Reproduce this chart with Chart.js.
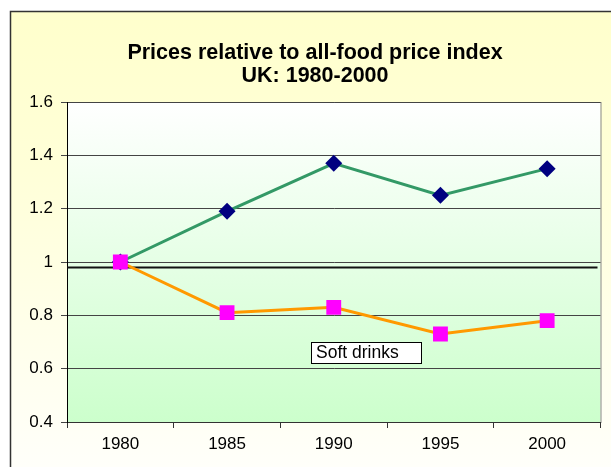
<!DOCTYPE html>
<html>
<head>
<meta charset="utf-8">
<script src="https://cdn.jsdelivr.net/npm/chart.js@4/dist/chart.umd.min.js"></script>
<style>
  html, body { margin: 0; padding: 0; background: #fff; }
  #wrap { width: 611px; height: 467px; position: relative; }
</style>
</head>
<body>
<div id="wrap"><canvas id="c"></canvas></div>
<script>
// data
const years      = ['1980', '1985', '1990', '1995', '2000'];
const upperSeries = [1.00, 1.19, 1.37, 1.25, 1.35];
const softDrinks  = [1.00, 0.81, 0.83, 0.73, 0.78];
const refLine     = [0.98];
const yTicks      = [0.4, 0.6, 0.8, 1.0, 1.2, 1.4, 1.6];
const titleLines  = ['Prices relative to all-food price index', 'UK: 1980-2000'];
const boxLabel    = { text: 'Soft drinks', xIndex: 2.3, y: 0.66 };

const FONT = "'Liberation Sans', Arial, sans-serif";

// fond, cadre, titre, ligne de référence, étiquette
const decor = {
  id: 'decor',
  beforeDraw(chart) {
    const { ctx, chartArea: a, width, height } = chart;
    ctx.save();
    ctx.fillStyle = '#fff';
    ctx.fillRect(0, 0, width, height);
    const g = ctx.createLinearGradient(0, 11, 0, height);
    g.addColorStop(0, '#FFFFCC');
    g.addColorStop(0.35, '#FFFFD8');
    g.addColorStop(1, '#FFFFFA');
    ctx.fillStyle = g;
    ctx.fillRect(10, 11, width, height);
    ctx.strokeStyle = '#333';
    ctx.lineWidth = 1.5;
    ctx.strokeRect(10.5, 11.5, width + 20, height + 20);

    const pg = ctx.createLinearGradient(0, a.top, 0, a.bottom);
    pg.addColorStop(0, '#FFFFFF');
    pg.addColorStop(1, '#CCFFCC');
    ctx.fillStyle = pg;
    ctx.fillRect(a.left, a.top, a.right - a.left, a.bottom - a.top);
    ctx.strokeStyle = '#888';
    ctx.lineWidth = 1;
    ctx.strokeRect(a.left + 0.5, a.top + 0.5, a.right - a.left, a.bottom - a.top);

    ctx.fillStyle = '#000';
    ctx.font = 'bold 21.5px ' + FONT;
    ctx.textAlign = 'center';
    ctx.textBaseline = 'middle';
    titleLines.forEach((t, i) => ctx.fillText(t, 315, 53 + i * 23));
    ctx.restore();
  },
  beforeDatasetsDraw(chart) {
    const { ctx, chartArea: a, scales: { y } } = chart;
    const py = Math.round(y.getPixelForValue(refLine[0])) + 0.5;
    ctx.save();
    ctx.strokeStyle = '#111';
    ctx.lineWidth = 2;
    ctx.beginPath();
    ctx.moveTo(a.left, py);
    ctx.lineTo(a.right - 3, py);
    ctx.stroke();
    ctx.restore();
  },
  afterDatasetsDraw(chart) {
    const { ctx, scales: { x, y } } = chart;
    const x0 = x.getPixelForValue(0), x1 = x.getPixelForValue(1);
    const cx = x0 + (x1 - x0) * boxLabel.xIndex;
    const cy = y.getPixelForValue(boxLabel.y);
    const w = 110, h = 21;
    ctx.save();
    ctx.fillStyle = '#fff';
    ctx.fillRect(Math.round(cx - w / 2), Math.round(cy - h / 2), w, h);
    ctx.strokeStyle = '#000';
    ctx.lineWidth = 1;
    ctx.strokeRect(Math.round(cx - w / 2) + 0.5, Math.round(cy - h / 2) + 0.5, w, h);
    ctx.fillStyle = '#000';
    ctx.font = '17.5px ' + FONT;
    ctx.textAlign = 'left';
    ctx.textBaseline = 'middle';
    ctx.fillText(boxLabel.text, Math.round(cx - w / 2) + 5, cy + 1);
    ctx.restore();
  }
};

new Chart(document.getElementById('c'), {
  type: 'line',
  plugins: [decor],
  data: {
    labels: years,
    datasets: [
      {
        label: 'Soft drinks',
        data: softDrinks,
        borderColor: '#FF9900',
        borderWidth: 3,
        pointStyle: 'rect',
        pointRadius: 10.5,
        pointBackgroundColor: '#FF00FF',
        pointBorderColor: '#FF00FF',
        pointBorderWidth: 0,
        tension: 0
      },
      {
        label: 'Other',
        data: upperSeries,
        borderColor: '#339966',
        borderWidth: 3,
        pointStyle: 'rectRot',
        pointRadius: 8.5,
        pointBackgroundColor: '#000080',
        pointBorderColor: '#000080',
        pointBorderWidth: 0,
        tension: 0
      }
    ]
  },
  options: {
    responsive: true,
    maintainAspectRatio: false,
    animation: false,
    layout: { padding: { left: 10, right: 7, top: 102, bottom: 0 } },
    scales: {
      x: {
        offset: true,
        grid: { offset: true, drawOnChartArea: false, drawTicks: true, tickLength: 6, color: '#333' },
        border: { color: '#333', width: 1 },
        ticks: { color: '#000', font: { family: FONT, size: 17 }, padding: 6, maxRotation: 0 },
        afterFit(s) { s.height = 45; }
      },
      y: {
        min: 0.4, max: 1.6,
        afterBuildTicks(s) { s.ticks = yTicks.map(v => ({ value: v })); },
        grid: { color: '#444', tickLength: 6 },
        border: { color: '#000', width: 1 },
        ticks: { color: '#000', font: { family: FONT, size: 17 }, padding: 8,
                 callback: v => String(+v.toFixed(1)) },
        afterFit(s) { s.width = 57; }
      }
    },
    plugins: {
      legend: { display: false },
      tooltip: { enabled: false },
      title: { display: false }
    }
  }
});
</script>
</body>
</html>
